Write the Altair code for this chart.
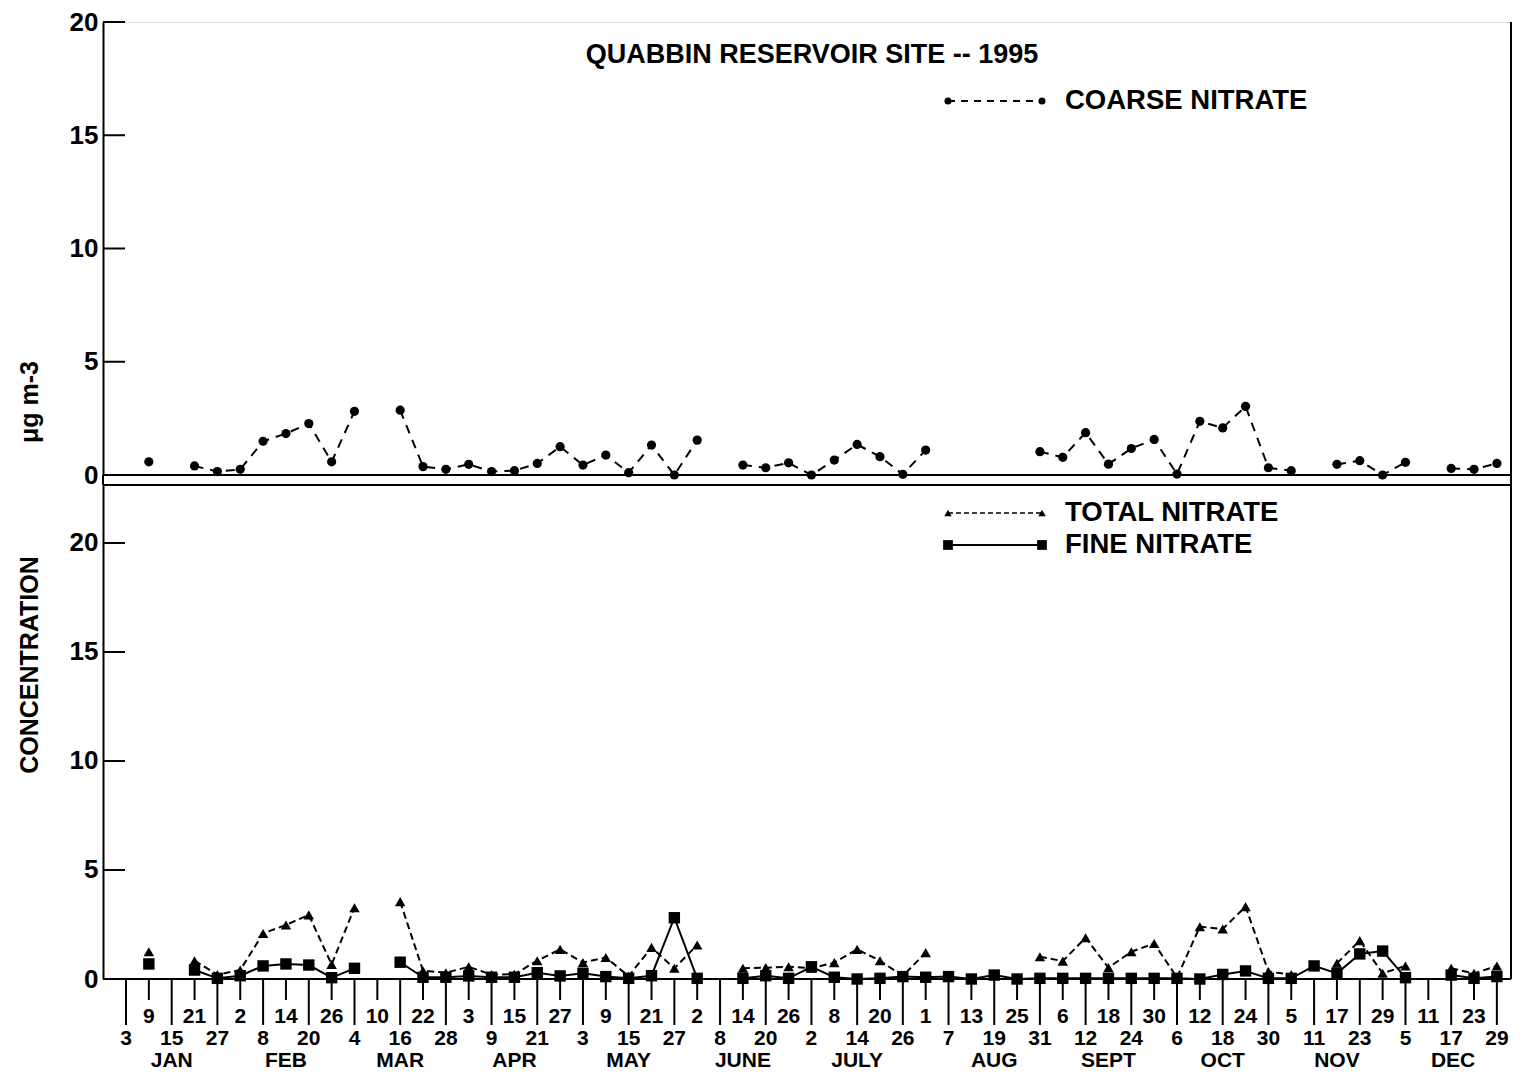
import datetime as dt
import altair as alt
import pandas as pd

FONT = "Liberation Sans"

# ---- data ----
sample_month = [1, 1, 1, 1, 1, 2, 2, 2, 2, 2, 3, 3, 3, 3, 3, 4, 4, 4, 4, 4,
                5, 5, 5, 5, 5, 6, 6, 6, 6, 6, 7, 7, 7, 7, 7, 8, 8, 8, 8, 8, 8,
                9, 9, 9, 9, 9, 10, 10, 10, 10, 10, 11, 11, 11, 11, 11,
                12, 12, 12, 12, 12]
sample_day = [3, 9, 15, 21, 27, 2, 8, 14, 20, 26, 4, 10, 16, 22, 28,
              3, 9, 15, 21, 27, 3, 9, 15, 21, 27, 2, 8, 14, 20, 26,
              2, 8, 14, 20, 26, 1, 7, 13, 19, 25, 31, 6, 12, 18, 24, 30,
              6, 12, 18, 24, 30, 5, 11, 17, 23, 29, 5, 11, 17, 23, 29]

coarse = [None, 0.58, None, 0.40, 0.15, 0.25, 1.49, 1.83, 2.27, 0.58,
          2.81, None, 2.86, 0.37, 0.25, 0.47, 0.15, 0.19, 0.51, 1.25,
          0.44, 0.88, 0.10, 1.32, 0.0, 1.54, None, 0.44, 0.32, 0.54,
          0.0, 0.66, 1.35, 0.81, 0.03, 1.10, None, None, None, None,
          1.03, 0.78, 1.87, 0.48, 1.17, 1.57, 0.04, 2.37, 2.08, 3.03,
          0.32, 0.19, None, 0.47, 0.63, 0.0, 0.56, None, 0.29, 0.25, 0.51]

total = [None, 1.25, None, 0.84, 0.20, 0.41, 2.09, 2.48, 2.94, 0.67,
         3.27, None, 3.55, 0.38, 0.29, 0.56, 0.20, 0.22, 0.84, 1.36,
         0.75, 0.99, 0.13, 1.45, 0.49, 1.56, None, 0.49, 0.52, 0.56,
         0.50, 0.75, 1.36, 0.84, 0.14, 1.21, None, None, None, None,
         1.02, 0.82, 1.89, 0.52, 1.25, 1.63, 0.07, 2.40, 2.29, 3.32,
         0.34, 0.20, None, 0.72, 1.76, 0.26, 0.60, None, 0.49, 0.26, 0.60]

fine = [None, 0.69, None, 0.41, 0.03, 0.15, 0.60, 0.69, 0.64, 0.06,
        0.49, None, 0.77, 0.08, 0.08, 0.14, 0.08, 0.08, 0.29, 0.14,
        0.26, 0.11, 0.03, 0.15, 2.81, 0.03, None, 0.03, 0.15, 0.03,
        0.56, 0.08, 0.0, 0.03, 0.11, 0.08, 0.11, 0.0, 0.18, 0.0,
        0.03, 0.03, 0.03, 0.03, 0.03, 0.03, 0.03, 0.0, 0.21, 0.37,
        0.03, 0.03, 0.60, 0.26, 1.15, 1.28, 0.06, None, 0.18, 0.03, 0.11]

y_ticks = [0, 5, 10, 15, 20]
month_names = ["JAN", "FEB", "MAR", "APR", "MAY", "JUNE", "JULY", "AUG",
               "SEPT", "OCT", "NOV", "DEC"]
month_label_doy = [15, 45, 75, 105, 135, 165, 195, 231, 261, 291, 321, 351.5]

title_text = "QUABBIN RESERVOIR SITE -- 1995"

# ---- derived tables ----
doy = [dt.date(1995, m, d).timetuple().tm_yday for m, d in zip(sample_month, sample_day)]


def series_df(vals):
    rows, seg, prev = [], 0, None
    for k, v in enumerate(vals):
        if v is None:
            continue
        if prev is not None and k - prev > 1:
            seg += 1
        rows.append({"doy": doy[k], "value": v, "seg": seg})
        prev = k
    return pd.DataFrame(rows)


coarse_df = series_df(coarse)
total_df = series_df(total)
fine_df = series_df(fine)
tick_df = pd.DataFrame({"doy": doy, "label": [str(d) for d in sample_day],
                        "row": [k % 2 for k in range(len(doy))]})
month_df = pd.DataFrame({"doy": month_label_doy, "label": month_names})
ytick_df = pd.DataFrame({"value": y_ticks[1:]})
one = pd.DataFrame({"a": [0]})

W, HT, HB, GAP = 1408, 453, 494, 10
T_OFF = 2  # top panel plot starts 2px lower; legend/title kept at page positions

X = alt.X("doy:Q", scale=alt.Scale(domain=[-3.04, 366.71], nice=False, zero=False), axis=None)

yaxis = alt.Axis(values=y_ticks, ticks=False, domain=True, domainColor="black",
                 domainWidth=2, grid=False, title=None, labelFontSize=26,
                 labelFont=FONT, labelFontWeight="bold", labelColor="black",
                 labelPadding=5)
YT = alt.Y("value:Q", scale=alt.Scale(domain=[0, 20], nice=False, zero=True), axis=yaxis)
YB = alt.Y("value:Q", scale=alt.Scale(domain=[0, 22.66], nice=False, zero=True), axis=yaxis)


def rule(**enc):
    return alt.Chart(one).mark_rule(color="black", strokeWidth=2).encode(**enc)


def label(text, x, y, size, align="left", angle=0):
    return alt.Chart(one).mark_text(text=text, font=FONT, fontWeight="bold",
                                    fontSize=size, align=align, baseline="middle",
                                    angle=angle, color="black").encode(
        x=alt.value(x), y=alt.value(y))


def sym(shape, x, y, size):
    return alt.Chart(one).mark_point(shape=shape, filled=True, size=size,
                                     color="black", opacity=1).encode(
        x=alt.value(x), y=alt.value(y))


# ---------------- top panel ----------------
top = alt.layer(
    alt.Chart(ytick_df).mark_rule(color="black", strokeWidth=2).encode(
        y=YT, x=alt.value(0), x2=alt.value(22)),
    rule(x=alt.value(0), x2=alt.value(W), y=alt.value(HT)),
    rule(x=alt.value(W), y=alt.value(0), y2=alt.value(HT + GAP)),
    rule(x=alt.value(0), y=alt.value(HT), y2=alt.value(HT + GAP)),
    alt.Chart(coarse_df).mark_line(color="black", strokeWidth=2, strokeDash=[9, 7]).encode(
        x=X, y=YT, detail="seg:N"),
    alt.Chart(coarse_df).mark_point(shape="circle", filled=True, size=85,
                                    color="black", opacity=1).encode(x=X, y=YT),
    label(title_text, 709, 35 - T_OFF, 27, align="center"),
    alt.Chart(one).mark_rule(color="black", strokeWidth=2, strokeDash=[7, 6]).encode(
        x=alt.value(845), x2=alt.value(939), y=alt.value(81 - T_OFF)),
    sym("circle", 845, 81 - T_OFF, 50),
    sym("circle", 939, 81 - T_OFF, 50),
    label("COARSE NITRATE", 962, 81 - T_OFF, 27.5),
).properties(width=W, height=HT)

# ---------------- bottom panel ----------------
bottom = alt.layer(
    alt.Chart(ytick_df).mark_rule(color="black", strokeWidth=2).encode(
        y=YB, x=alt.value(0), x2=alt.value(22)),
    rule(x=alt.value(0), x2=alt.value(W), y=alt.value(0)),
    rule(x=alt.value(0), x2=alt.value(W), y=alt.value(HB)),
    rule(x=alt.value(W), y=alt.value(0), y2=alt.value(HB)),
    alt.Chart(tick_df).transform_filter("datum.row == 1").mark_rule(
        color="black", strokeWidth=2).encode(x=X, y=alt.value(HB), y2=alt.value(HB + 21)),
    alt.Chart(tick_df).transform_filter("datum.row == 0").mark_rule(
        color="black", strokeWidth=2).encode(x=X, y=alt.value(HB), y2=alt.value(HB + 46)),
    alt.Chart(tick_df).transform_filter("datum.row == 1").mark_text(
        font=FONT, fontWeight="bold", fontSize=21, baseline="middle", color="black").encode(
        x=X, y=alt.value(HB + 38), text="label:N"),
    alt.Chart(tick_df).transform_filter("datum.row == 0").mark_text(
        font=FONT, fontWeight="bold", fontSize=21, baseline="middle", color="black").encode(
        x=X, y=alt.value(HB + 60), text="label:N"),
    alt.Chart(month_df).mark_text(
        font=FONT, fontWeight="bold", fontSize=21, baseline="middle", color="black").encode(
        x=X, y=alt.value(HB + 82), text="label:N"),
    alt.Chart(total_df).mark_line(color="black", strokeWidth=2, strokeDash=[7, 4]).encode(
        x=X, y=YB, detail="seg:N"),
    alt.Chart(total_df).mark_point(shape="triangle-up", filled=True, size=110,
                                   color="black", opacity=1).encode(x=X, y=YB),
    alt.Chart(fine_df).mark_line(color="black", strokeWidth=2).encode(
        x=X, y=YB, detail="seg:N"),
    alt.Chart(fine_df).mark_point(shape="square", filled=True, size=130,
                                  color="black", opacity=1).encode(x=X, y=YB),
    alt.Chart(one).mark_rule(color="black", strokeWidth=1.5, strokeDash=[5, 3]).encode(
        x=alt.value(845), x2=alt.value(939), y=alt.value(28)),
    sym("triangle-up", 845, 28, 55),
    sym("triangle-up", 939, 28, 55),
    label("TOTAL NITRATE", 962, 28, 27.5),
    rule(x=alt.value(845), x2=alt.value(939), y=alt.value(60)),
    sym("square", 845, 60, 95),
    sym("square", 939, 60, 95),
    label("FINE NITRATE", 962, 60, 27.5),
    label("CONCENTRATION", -73, 180, 25, align="center", angle=270),
    label("\u03bcg m-3", -73, -83, 25, align="center", angle=270),
).properties(width=W, height=HB)

chart = alt.vconcat(top, bottom, spacing=GAP, bounds="flush").properties(
    padding={"left": 9, "top": 0, "right": 0, "bottom": -1}
).configure_view(strokeWidth=0).configure(background="white")

chart.save("out.html", embed_options={"renderer": "svg", "actions": False})
